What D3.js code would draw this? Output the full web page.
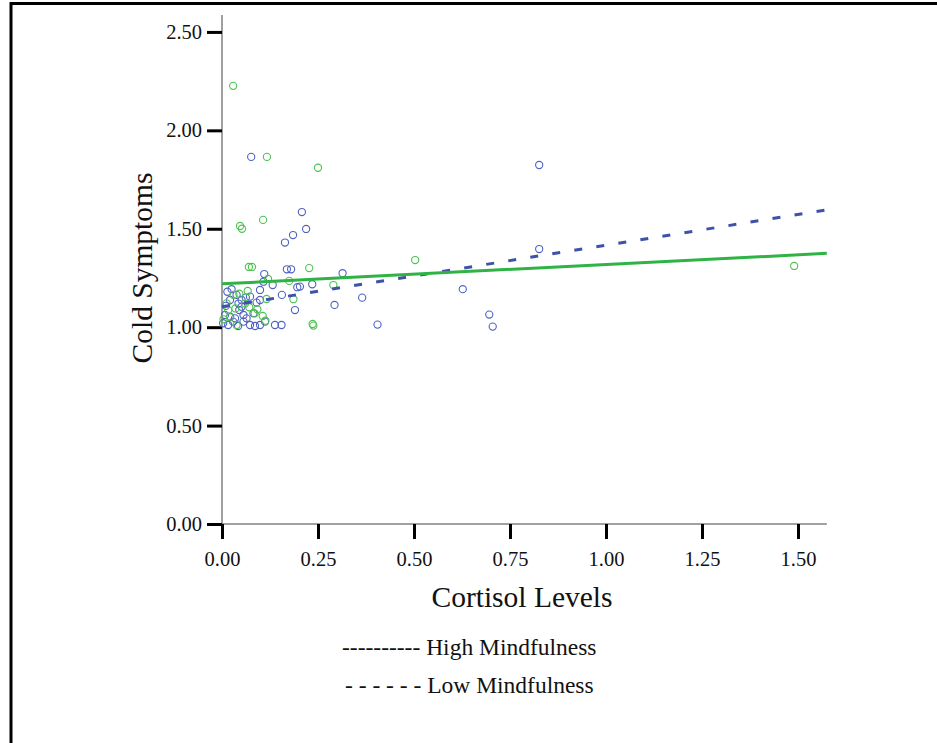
<!DOCTYPE html>
<html>
<head>
<meta charset="utf-8">
<script src="https://cdn.jsdelivr.net/npm/d3@7"></script>
<style>
  body { margin: 0; background: #fff; }
  text { font-family: "Liberation Serif", "Times New Roman", serif; fill: #111; }
</style>
</head>
<body>
<div id="chart"></div>
<script>
var vWidth = 937;
var vHeight = 743;

// High mindfulness group (green)
var highX = [0.029, 0.117, 0.25, 0.107, 0.047, 0.052, 0.503, 0.07, 0.078, 0.227, 1.49,
             0.29, 0.236, 0.238, 0.186, 0.175, 0.12, 0.067, 0.03, 0.092, 0.071, 0.016,
             0.021, 0.106, 0.113, 0.038, 0.012, 0.116, 0.045, 0.06, 0.085, 0.035, 0.004];
var highY = [2.226, 1.865, 1.81, 1.545, 1.514, 1.50, 1.341, 1.306, 1.306, 1.30, 1.311,
             1.214, 1.016, 1.008, 1.142, 1.235, 1.245, 1.184, 1.164, 1.091, 1.101, 1.087,
             1.05, 1.057, 1.033, 1.011, 1.121, 1.143, 1.17, 1.12, 1.07, 1.095, 1.04];

// Low mindfulness group (blue)
var lowX = [0.076, 0.826, 0.208, 0.219, 0.185, 0.164, 0.826, 0.169, 0.18, 0.110, 0.314,
            0.235, 0.293, 0.365, 0.405, 0.627, 0.696, 0.705, 0.203, 0.108, 0.132, 0.156,
            0.196, 0.19, 0.099, 0.099, 0.073, 0.051, 0.025, 0.038, 0.021, 0.01, 0.045,
            0.056, 0.021, 0.034, 0.008, 0.056, 0.073, 0.086, 0.099, 0.138, 0.155, 0.112,
            0.016, 0.042, 0.064, 0.051, 0.082, 0.029, 0.003, 0.062, 0.043, 0.014, 0.09];
var lowY = [1.865, 1.824, 1.585, 1.499, 1.468, 1.43, 1.397, 1.294, 1.294, 1.270, 1.274,
            1.218, 1.113, 1.15, 1.013, 1.193, 1.064, 1.003, 1.206, 1.231, 1.214, 1.164,
            1.203, 1.087, 1.189, 1.138, 1.155, 1.138, 1.193, 1.164, 1.138, 1.108, 1.087,
            1.062, 1.053, 1.045, 1.062, 1.028, 1.011, 1.006, 1.011, 1.011, 1.011, 1.028,
            1.011, 1.006, 1.045, 1.104, 1.071, 1.028, 1.02, 1.15, 1.12, 1.18, 1.125];

// Fit lines (x range, predicted y)
var fitX = [0, 1.575];
var highFit = [1.22, 1.375];
var lowFit = [1.104, 1.596];

var xTicks = [0, 0.25, 0.5, 0.75, 1.0, 1.25, 1.5];
var yTicks = [0, 0.5, 1.0, 1.5, 2.0, 2.5];
var legendLabels = ["---------- High Mindfulness", "- - - - - - Low Mindfulness"];

var svg = d3.select("#chart")
            .append("svg")
            .attr("width", vWidth)
            .attr("height", vHeight);

// outer frame
svg.append("rect")
    .attr("x", 11).attr("y", 3.5)
    .attr("width", 960).attr("height", 800)
    .attr("fill", "none")
    .attr("stroke", "#000")
    .attr("stroke-width", 3);

var x = d3.scaleLinear().domain([0, 1.575]).range([222, 826.8]);
var y = d3.scaleLinear().domain([0, 2.586]).range([524, 15]);

// axis lines
svg.append("line")
    .attr("x1", x(0)).attr("x2", x(0))
    .attr("y1", y(2.586)).attr("y2", y(0))
    .attr("stroke", "#808080").attr("stroke-width", 1.5);
svg.append("line")
    .attr("x1", x(0)).attr("x2", x(1.575))
    .attr("y1", y(0)).attr("y2", y(0))
    .attr("stroke", "#808080").attr("stroke-width", 1.5);

var xAxis = svg.append("g")
    .attr("transform", "translate(0," + y(0) + ")")
    .call(d3.axisBottom(x).tickValues(xTicks).tickFormat(d3.format(".2f"))
          .tickSize(15).tickPadding(12));
var yAxis = svg.append("g")
    .attr("transform", "translate(" + x(0) + ",0)")
    .call(d3.axisLeft(y).tickValues(yTicks).tickFormat(d3.format(".2f"))
          .tickSize(15).tickPadding(5));

[xAxis, yAxis].forEach(function (a) {
  a.select(".domain").remove();
  a.selectAll(".tick line").attr("stroke", "#000").attr("stroke-width", 3);
  a.selectAll(".tick text")
    .attr("font-family", "Liberation Serif, serif")
    .attr("font-size", 20.5)
    .attr("fill", "#111");
});

// points
var highPts = highX.map(function (d, i) { return { x: d, y: highY[i] }; });
var lowPts = lowX.map(function (d, i) { return { x: d, y: lowY[i] }; });

svg.append("g").selectAll("circle").data(lowPts).enter().append("circle")
    .attr("cx", d => x(d.x))
    .attr("cy", d => y(d.y))
    .attr("r", 3.6)
    .attr("fill", "none")
    .attr("stroke", "#4f62c2")
    .attr("stroke-width", 1.1);

svg.append("g").selectAll("circle").data(highPts).enter().append("circle")
    .attr("cx", d => x(d.x))
    .attr("cy", d => y(d.y))
    .attr("r", 3.6)
    .attr("fill", "none")
    .attr("stroke", "#4cc24f")
    .attr("stroke-width", 1.1);

// fit lines
var line = d3.line().x(d => x(d[0])).y(d => y(d[1]));

svg.append("path")
    .datum(fitX.map((d, i) => [d, lowFit[i]]))
    .attr("d", line)
    .attr("fill", "none")
    .attr("stroke", "#3d52a8")
    .attr("stroke-width", 3)
    .attr("stroke-dasharray", "8,14.3");

svg.append("path")
    .datum(fitX.map((d, i) => [d, highFit[i]]))
    .attr("d", line)
    .attr("fill", "none")
    .attr("stroke", "#2fb344")
    .attr("stroke-width", 3);

// axis titles
svg.append("text")
    .attr("x", 522).attr("y", 607)
    .attr("text-anchor", "middle")
    .attr("font-size", 29.5)
    .text("Cortisol Levels");

svg.append("text")
    .attr("transform", "translate(152,268) rotate(-90)")
    .attr("text-anchor", "middle")
    .attr("font-size", 29.5)
    .text("Cold Symptoms");

// legend
svg.selectAll(".legend").data(legendLabels).enter().append("text")
    .attr("class", "legend")
    .attr("x", (d, i) => i === 0 ? 342 : 345)
    .attr("y", (d, i) => 655 + i * 37.5)
    .attr("font-size", 23.5)
    .text(d => d);
</script>
</body>
</html>
